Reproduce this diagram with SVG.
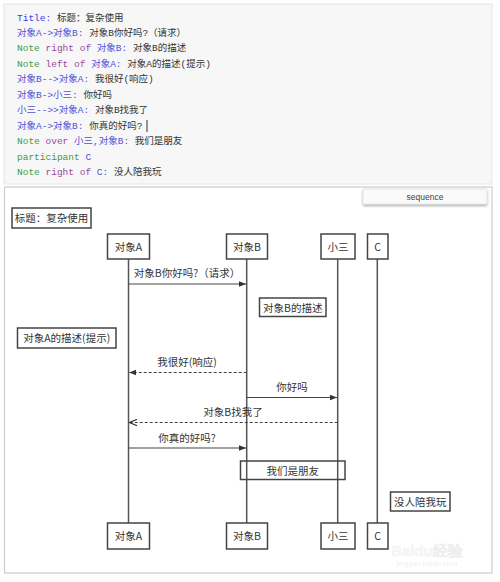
<svg xmlns="http://www.w3.org/2000/svg" width="500" height="582" viewBox="0 0 500 582">
<defs>
<style>
.code{font-family:"Liberation Mono","Noto Sans CJK SC",monospace;font-size:9.5px;fill:#333}
.kb{fill:#3a3af0}
.kv{fill:#5050d8}
.kg{fill:#3f9a3f}
.kp{fill:#9a4a9a}
.t{font-family:"Noto Sans CJK SC","Liberation Sans",sans-serif;font-size:10.5px;fill:#333;text-anchor:middle}
.box{fill:#fff;stroke:#444;stroke-width:1.5}
.life{stroke:#555;stroke-width:1.5;fill:none}
.msg{stroke:#444;stroke-width:1.2;fill:none}
.dash{stroke-dasharray:3,2}
</style>
<marker id="fill" viewBox="0 0 10 10" refX="10" refY="5" markerWidth="7" markerHeight="7" markerUnits="userSpaceOnUse" orient="auto">
<path d="M0,1 L10,5 L0,9 z" fill="#333"/>
</marker>
<marker id="open" viewBox="0 0 10 10" refX="10" refY="5" markerWidth="8" markerHeight="8" markerUnits="userSpaceOnUse" orient="auto">
<path d="M0,1 L10,5 L0,9" fill="none" stroke="#333" stroke-width="1.5"/>
</marker>
<filter id="sh" x="-10%" y="-30%" width="120%" height="180%">
<feDropShadow dx="0" dy="1.5" stdDeviation="1.2" flood-color="#000" flood-opacity="0.35"/>
</filter>
</defs>
<rect width="500" height="582" fill="#fff"/>
<g id="code">
<rect x="4" y="4" width="488" height="180" fill="#f7f7f7" stroke="#e6e6e6" stroke-width="1"/>
<text class="code" x="17" y="20.5"><tspan class="kb">Title:</tspan> 标题：复杂使用</text>
<text class="code" x="17" y="36"><tspan class="kv">对象A-&gt;对象B:</tspan> 对象B你好吗?（请求）</text>
<text class="code" x="17" y="51.4"><tspan class="kg">Note</tspan> <tspan class="kp">right of</tspan> <tspan class="kv">对象B:</tspan> 对象B的描述</text>
<text class="code" x="17" y="66.8"><tspan class="kg">Note</tspan> <tspan class="kp">left of</tspan> <tspan class="kv">对象A:</tspan> 对象A的描述(提示)</text>
<text class="code" x="17" y="82.2"><tspan class="kv">对象B--&gt;对象A:</tspan> 我很好(响应)</text>
<text class="code" x="17" y="97.7"><tspan class="kv">对象B-&gt;小三:</tspan> 你好吗</text>
<text class="code" x="17" y="113.1"><tspan class="kv">小三--&gt;&gt;对象A:</tspan> 对象B找我了</text>
<text class="code" x="17" y="128.6"><tspan class="kv">对象A-&gt;对象B:</tspan> 你真的好吗?</text>
<line x1="147" y1="120" x2="147" y2="132" stroke="#333" stroke-width="1"/>
<text class="code" x="17" y="144"><tspan class="kg">Note</tspan> <tspan class="kp">over</tspan> <tspan class="kv">小三,对象B:</tspan> 我们是朋友</text>
<text class="code" x="17" y="159.5"><tspan class="kg">participant</tspan> <tspan class="kv">C</tspan></text>
<text class="code" x="17" y="175"><tspan class="kg">Note</tspan> <tspan class="kp">right of</tspan> <tspan class="kv">C:</tspan> 没人陪我玩</text>
</g>
<g id="panel">
<rect x="4.5" y="187" width="487.5" height="386" fill="#fff" stroke="#ccc" stroke-width="1.2"/>
<rect x="363" y="189" width="124" height="15" rx="1.5" fill="#fafafa" stroke="#ddd" stroke-width="0.8" filter="url(#sh)"/>
<text x="425" y="199.5" font-family="Liberation Sans,Arial,sans-serif" font-size="8.5" fill="#444" text-anchor="middle">sequence</text>
</g>
<g id="title">
<rect class="box" x="12" y="208" width="79" height="20"/>
<text class="t" x="51.5" y="222">标题：复杂使用</text>
</g>
<g id="lifelines">
<line class="life" x1="128.5" y1="259" x2="128.5" y2="523"/>
<line class="life" x1="246.7" y1="259" x2="246.7" y2="523"/>
<line class="life" x1="337.7" y1="259" x2="337.7" y2="523"/>
<line class="life" x1="377.3" y1="259" x2="377.3" y2="523"/>
</g>
<g id="p-A">
<rect class="box" x="107.5" y="234" width="42" height="25"/>
<text class="t" x="128.5" y="250.5">对象A</text>
<rect class="box" x="107.5" y="523" width="42" height="26"/>
<text class="t" x="128.5" y="540">对象A</text>
</g>
<g id="p-B">
<rect class="box" x="226.5" y="234" width="41" height="25"/>
<text class="t" x="247" y="250.5">对象B</text>
<rect class="box" x="226.5" y="523" width="41" height="26"/>
<text class="t" x="247" y="540">对象B</text>
</g>
<g id="p-X">
<rect class="box" x="321" y="234" width="34" height="25"/>
<text class="t" x="338" y="250.5">小三</text>
<rect class="box" x="321" y="523" width="34" height="26"/>
<text class="t" x="338" y="540">小三</text>
</g>
<g id="p-C">
<rect class="box" x="367.5" y="234" width="20.5" height="25"/>
<text class="t" x="377.7" y="250.5">C</text>
<rect class="box" x="367.5" y="523" width="20.5" height="26"/>
<text class="t" x="377.7" y="540">C</text>
</g>
<g id="connectors">
<line class="msg" x1="128.5" y1="284" x2="246" y2="284" marker-end="url(#fill)"/>
<text class="t" x="187" y="277">对象B你好吗?（请求）</text>
<line class="msg dash" x1="246.7" y1="372.5" x2="129.2" y2="372.5" marker-end="url(#fill)"/>
<text class="t" x="187" y="366">我很好(响应)</text>
<line class="msg" x1="246.7" y1="397.5" x2="337" y2="397.5" marker-end="url(#fill)"/>
<text class="t" x="292" y="391">你好吗</text>
<line class="msg dash" x1="337.7" y1="422.5" x2="129.2" y2="422.5" marker-end="url(#open)"/>
<text class="t" x="233" y="416">对象B找我了</text>
<line class="msg" x1="128.5" y1="448" x2="246" y2="448" marker-end="url(#fill)"/>
<text class="t" x="187" y="441.5">你真的好吗?</text>
</g>
<g id="note-B">
<rect class="box" x="259.5" y="298" width="66.5" height="18.5"/>
<text class="t" x="292.7" y="311.5">对象B的描述</text>
</g>
<g id="note-A">
<rect class="box" x="17.5" y="328" width="98.5" height="20"/>
<text class="t" x="66.7" y="342">对象A的描述(提示)</text>
</g>
<g id="note-over">
<rect class="box" x="240.5" y="461" width="104.5" height="18.5" style="fill:none"/>
<text class="t" x="292.7" y="474.5">我们是朋友</text>
</g>
<g id="note-C">
<rect class="box" x="390.5" y="492" width="59.5" height="19"/>
<text class="t" x="420.2" y="505.5">没人陪我玩</text>
</g>
<g id="watermark" opacity="0.35">
<text x="427" y="556" font-family="Liberation Sans,sans-serif" font-size="15" font-weight="bold" fill="#eeeeee" stroke="#d0d0d0" stroke-width="0.6" text-anchor="middle">Baidu经验</text>
<text x="427" y="566" font-family="Liberation Sans,sans-serif" font-size="7.5" fill="#cfcfcf" text-anchor="middle">jingyan.baidu.com</text>
</g>
</svg>
